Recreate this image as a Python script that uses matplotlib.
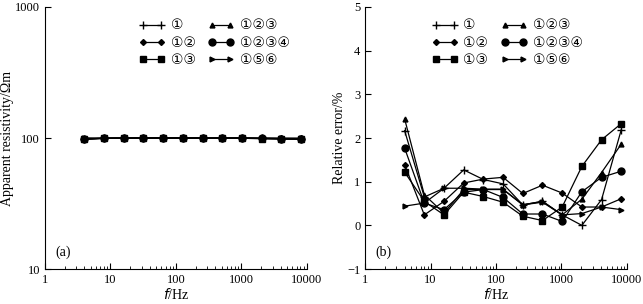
import matplotlib.pyplot as plt
from matplotlib.ticker import LogLocator, NullFormatter, FixedLocator

plt.rcParams['font.family'] = ['Liberation Serif', 'DejaVu Sans']

freq = [4, 8, 16, 32, 64, 128, 256, 512, 1024, 2048, 4096, 8192]
labels = ['①', '①②', '①③', '①②③', '①②③④', '①⑤⑥']
markers = ['+', 'D', 's', '^', 'o', '>']
msizes = [6, 3, 5, 3.5, 5, 3.5]

# panel (a) apparent resistivity
rho = {
    '①':      [98.2, 99.6, 99.8, 100.0, 100.1, 100.0, 99.9, 99.8, 99.8, 99.3, 98.9, 97.8],
    '①②':     [98.6, 99.8, 99.9, 100.0, 100.0, 100.1, 99.9, 99.9, 99.8, 99.6, 99.6, 99.4],
    '①③':     [98.8, 99.5, 99.8, 100.0, 100.0, 99.9, 99.8, 99.9, 99.6, 98.7, 98.0, 97.7],
    '①②③':    [97.6, 99.3, 99.7, 99.9, 99.9, 99.9, 99.9, 99.8, 99.8, 99.4, 98.8, 98.1],
    '①②③④':   [98.2, 99.5, 99.7, 99.9, 99.9, 99.9, 99.8, 99.8, 99.9, 99.2, 98.9, 98.8],
    '①⑤⑥':    [100.4, 99.5, 99.9, 99.9, 99.9, 99.9, 99.9, 99.8, 99.8, 99.7, 99.6, 99.6],
}

# panel (b) relative error %
err = {
    '①':      [2.17, 0.65, 0.85, 1.27, 1.05, 0.95, 0.47, 0.55, 0.24, 0.00, 0.59, 2.19],
    '①②':     [1.39, 0.24, 0.55, 0.97, 1.06, 1.10, 0.73, 0.92, 0.74, 0.42, 0.42, 0.61],
    '①③':     [1.22, 0.55, 0.24, 0.76, 0.66, 0.53, 0.21, 0.11, 0.42, 1.35, 1.96, 2.33],
    '①②③':    [2.44, 0.70, 0.28, 0.82, 0.82, 0.82, 0.47, 0.55, 0.24, 0.60, 1.21, 1.86],
    '①②③④':   [1.77, 0.51, 0.36, 0.76, 0.82, 0.64, 0.26, 0.26, 0.09, 0.77, 1.10, 1.24],
    '①⑤⑥':    [0.44, 0.51, 0.85, 0.85, 0.83, 0.83, 0.47, 0.53, 0.24, 0.27, 0.42, 0.36],
}

fig = plt.figure(figsize=(6.43, 3.04), dpi=100)
ax1 = fig.add_axes([0.070, 0.115, 0.407, 0.862])
ax2 = fig.add_axes([0.568, 0.115, 0.407, 0.862])


def style(ax):
    ax.set_xscale('log')
    ax.set_xlim(1, 10000)
    ax.xaxis.set_major_locator(FixedLocator([1, 10, 100, 1000, 10000]))
    ax.xaxis.set_minor_locator(LogLocator(base=10, subs=range(2, 10)))
    ax.xaxis.set_minor_formatter(NullFormatter())
    ax.set_xticklabels(['1', '10', '100', '1000', '10000'])
    for s in ['top', 'right']:
        ax.spines[s].set_visible(False)
    ax.tick_params(direction='in', which='both', labelsize=9)
    ax.tick_params(which='major', length=4)
    ax.tick_params(which='minor', length=2)
    ax.set_xlabel('$f$/Hz', fontsize=10, labelpad=1)


for lab, m, ms in zip(labels, markers, msizes):
    ax1.plot(freq, rho[lab], marker=m, ms=ms, color='black', lw=0.9,
             mew=1.0, label=lab)
    ax2.plot(freq, err[lab], marker=m, ms=ms, color='black', lw=0.9,
             mew=1.0, label=lab)

style(ax1)
ax1.set_yscale('log')
ax1.set_ylim(10, 1000)
ax1.yaxis.set_major_locator(FixedLocator([10, 100, 1000]))
ax1.set_yticklabels(['10', '100', '1000'])
ax1.yaxis.set_minor_locator(FixedLocator([]))
ax1.set_ylabel('Apparent resistivity/Ωm', fontsize=10)
ax1.yaxis.set_label_coords(-0.12, 0.5)
ax1.text(0.04, 0.05, '(a)', transform=ax1.transAxes, fontsize=10)

style(ax2)
ax2.set_ylim(-1, 5)
ax2.set_yticks([-1, 0, 1, 2, 3, 4, 5])
ax2.set_ylabel('Relative error/%', fontsize=10)
ax2.yaxis.set_label_coords(-0.075, 0.5)
ax2.text(0.04, 0.05, '(b)', transform=ax2.transAxes, fontsize=10)

for ax, x0 in ((ax1, 0.31), (ax2, 0.205)):
    ax.legend(ncol=2, frameon=False, loc='upper left',
              bbox_to_anchor=(x0, 1.0), numpoints=2,
              fontsize=10, handlelength=1.9, handletextpad=0.4,
              columnspacing=0.9, labelspacing=0.3)

plt.savefig('out.png', dpi=100)
